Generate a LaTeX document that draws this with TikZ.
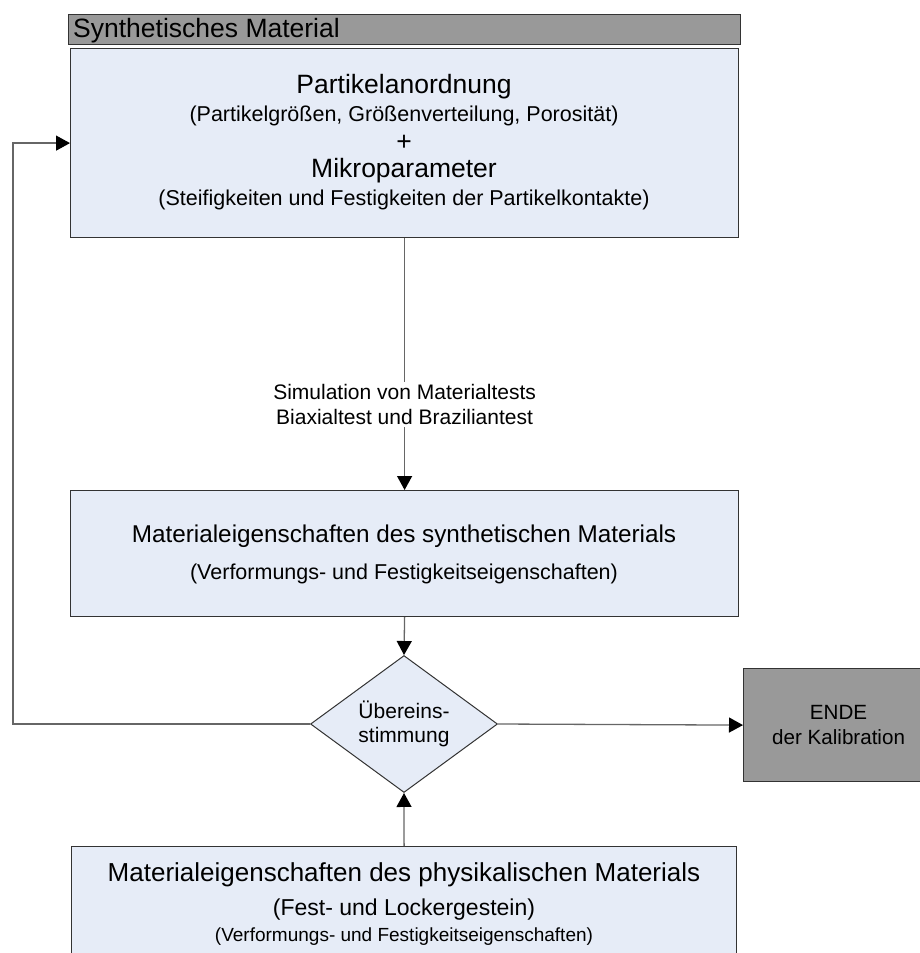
\documentclass[tikz,border=0pt]{standalone}
\usepackage{fontspec}
\setmainfont{Liberation Sans}
\usepackage{xcolor}
\usepackage{tikz}
\usetikzlibrary{shapes.geometric,arrows.meta,calc}
\definecolor{boxfill}{HTML}{E6ECF7}
\definecolor{greyfill}{HTML}{999999}
\definecolor{linegrey}{HTML}{666666}

\begin{document}
\begin{tikzpicture}[x=1pt,y=-1pt,
    box/.style={draw=black!80,line width=1.2pt,fill=boxfill,anchor=north west,inner sep=0pt},
    greybox/.style={box,fill=greyfill},
    arrow/.style={draw=linegrey,line width=1.3pt,-{Triangle[length=14pt,width=15pt,color=black]}},
    bigtxt/.style={font=\fontsize{26.5}{30}\selectfont,anchor=base,inner sep=0pt},
    midtxt/.style={font=\fontsize{24.3}{28}\selectfont,anchor=base,inner sep=0pt},
    subtxt/.style={font=\fontsize{21.5}{26}\selectfont,anchor=base,inner sep=0pt}]
    \useasboundingbox (0,0) rectangle (920,953);
    \clip (0,0) rectangle (920,953);

    % boxes
    \node[greybox,minimum width=672pt,minimum height=30pt] (header) at (68,14) {};
    \node[bigtxt,anchor=base west] (headertxt) at (73,37) {Synthetisches Material};
    \node[box,minimum width=668pt,minimum height=189pt] (partikel) at (70,48) {};
    \node[box,minimum width=668pt,minimum height=126pt] (synth) at (70,490) {};
    \node[diamond,draw=black!80,line width=1pt,fill=boxfill,inner sep=0pt,
          minimum width=187pt,minimum height=112pt,align=center,
          font=\fontsize{21}{24}\selectfont] (check) at (404,724) {Übereins-\\stimmung};
    \node[greybox,minimum width=190pt,minimum height=113pt] (ende) at (743,668) {};
    \node[align=center,font=\fontsize{20.6}{25}\selectfont] (endetxt) at (ende.center) {ENDE\\der Kalibration};
    \node[box,minimum width=665pt,minimum height=130pt] (physik) at (71,846) {};

    % texts
    \foreach \y/\sty/\lbl/\nm in {93/bigtxt/Partikelanordnung/pa,
        121/subtxt/{(Partikelgrößen, Größenverteilung, Porosität)}/pb,
        150/bigtxt/+/pc,
        177/bigtxt/Mikroparameter/pd,
        205/subtxt/{(Steifigkeiten und Festigkeiten der Partikelkontakte)}/pe,
        542/midtxt/Materialeigenschaften des synthetischen Materials/sa,
        579/subtxt/{(Verformungs- und Festigkeitseigenschaften)}/sb}
    {
      \node[\sty] (\nm) at (404,\y) {\lbl};
    }
    \node[font=\fontsize{26}{30}\selectfont,anchor=base,inner sep=0pt] (ma) at (404,881) {Materialeigenschaften des physikalischen Materials};
    \node[font=\fontsize{23}{27}\selectfont,anchor=base,inner sep=0pt] (mb) at (404,915) {(Fest- und Lockergestein)};
    \node[font=\fontsize{19}{23}\selectfont,anchor=base,inner sep=0pt] (mc) at (404,941) {(Verformungs- und Festigkeitseigenschaften)};

    % connectors
    \draw[arrow] (partikel.south) -- node[pos=0.66,fill=white,align=center,inner sep=2pt,
        font=\fontsize{21}{25}\selectfont] (simlabel) {Simulation von Materialtests\\Biaxialtest und Braziliantest} (synth.north);
    \foreach \a/\b in {synth.south/check.north,physik.north/check.south,check.east/ende.west}
    {
      \draw[arrow] (\a) -- (\b);
    }
    \coordinate (loop) at (13,0);
    \draw[arrow] (check.west) -- (check.west -| loop) -- (partikel.west -| loop) -- (partikel.west);
\end{tikzpicture}
\end{document}
